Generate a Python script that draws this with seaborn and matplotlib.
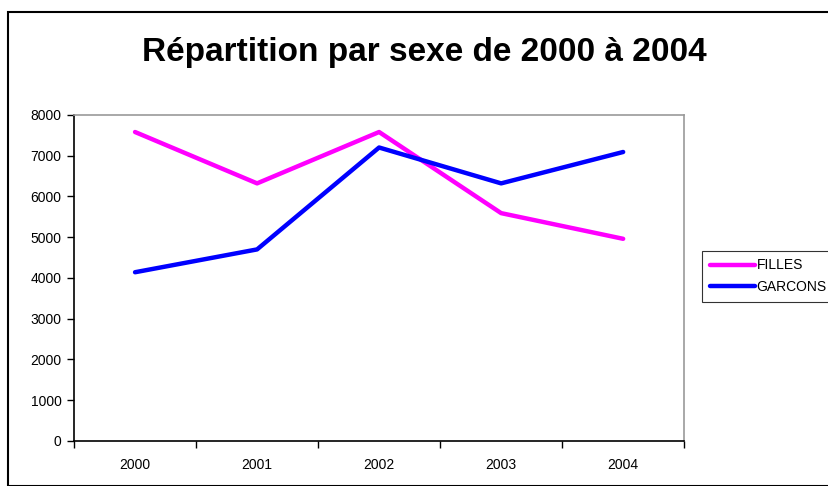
import pandas as pd
import matplotlib
matplotlib.use('Agg')
import matplotlib.pyplot as plt
import seaborn as sns
from matplotlib.patches import Rectangle
from matplotlib.ticker import FixedLocator

# chart values
years = ['2000', '2001', '2002', '2003', '2004']
filles = [7580, 6320, 7580, 5590, 4960]
garcons = [4140, 4700, 7200, 6320, 7090]

df = pd.DataFrame({
    'annee': years * 2,
    'effectif': filles + garcons,
    'sexe': ['FILLES'] * len(years) + ['GARCONS'] * len(years),
})

sns.set_style('white')
plt.rcParams['font.family'] = ['Liberation Sans', 'DejaVu Sans']
plt.rcParams['text.color'] = 'black'
plt.rcParams['xtick.color'] = 'black'
plt.rcParams['ytick.color'] = 'black'

fig = plt.figure(figsize=(8.29, 4.86), dpi=100)
ax = fig.add_axes([0.0893, 0.0926, 0.736, 0.671])

sns.lineplot(data=df, x='annee', y='effectif', hue='sexe',
             palette={'FILLES': '#FF00FF', 'GARCONS': '#0000FF'},
             linewidth=3.2, ax=ax, sort=False, solid_capstyle='round')

ax.set_xlim(-0.5, len(years) - 0.5)
ax.set_ylim(0, 8000)
ax.set_yticks(range(0, 8001, 1000))
ax.set_xlabel('')
ax.set_ylabel('')

# tick marks between categories, labels centred
ax.xaxis.set_minor_locator(FixedLocator([i - 0.5 for i in range(len(years) + 1)]))
ax.tick_params(axis='x', which='major', length=0, labelsize=10, pad=12)
ax.tick_params(axis='x', which='minor', length=5, width=1, direction='out', bottom=True)
ax.tick_params(axis='y', which='major', length=5, width=1, direction='out', left=True,
               labelsize=10, pad=4)

for side in ['left', 'bottom']:
    ax.spines[side].set_color('black')
    ax.spines[side].set_linewidth(1.2)
for side in ['top', 'right']:
    ax.spines[side].set_color('#999999')
    ax.spines[side].set_linewidth(1.2)

leg = ax.legend(title=None, loc='center left', bbox_to_anchor=(1.029, 0.505),
                frameon=True, fancybox=False, edgecolor='black', fontsize=10,
                handlelength=3.3, handletextpad=0.1, borderpad=0.55, labelspacing=0.55,
                borderaxespad=0)
leg.get_frame().set_linewidth(0.8)
for line in leg.get_lines():
    line.set_linewidth(3.2)

fig.text(0.512, 0.893, 'Répartition par sexe de 2000 à 2004', ha='center', va='center',
         fontsize=24, fontweight='bold')

# outer chart border
fig.patches.append(Rectangle((8 / 829, 0), 1.0, 1 - 12 / 486, transform=fig.transFigure,
                             fill=False, edgecolor='black', linewidth=1.5))

fig.savefig('out.png', dpi=100)
